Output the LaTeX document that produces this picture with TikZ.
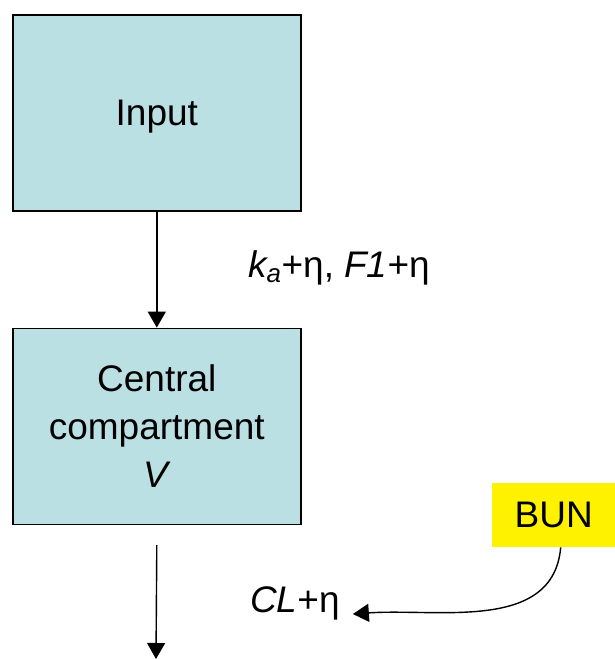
\documentclass[tikz,border=0pt]{standalone}
\usepackage{fontspec}
\setmainfont{Liberation Sans}
\definecolor{boxfill}{RGB}{187,224,227}
\usetikzlibrary{positioning, arrows.meta}

\begin{document}
\begin{tikzpicture}[x=1pt, y=-1pt,
                    every node/.style = {text=black, font=\fontsize{37}{48}\selectfont},
                    compbox/.style = {draw, line width=1.6pt, fill=boxfill, minimum width=288pt, minimum height=196pt, text depth=0pt, align=center},
                    flow/.style = {draw, line width=1.4pt, -{Triangle[width=18pt,length=16pt]}}]
                \useasboundingbox (0,0) rectangle (615,659);
                \node (input) [compbox, anchor=north west] at (12,14) {Input};
                \node (central) [compbox, below = 116pt of input] {Central\\compartment\\\textit{V}};
                \node (bun) [fill=yellow, minimum width=123pt, minimum height=64pt, inner sep=0pt, anchor=north west] at (492,483) {BUN};
                \node (abs) [anchor=base west, inner sep=0pt] at (248,277) {\textit{k\textsubscript{a}}+η, \textit{F1}+η};
                \node (cl) [anchor=base west, inner sep=0pt] at (250,612) {\textit{CL}+η};
                \coordinate (elim) at (156,659);
                \draw[flow] (input) -- (central);
                \draw[flow] ([yshift=-20pt]central.south) -- (elim);
                \draw[flow] ([xshift=7pt]bun.south) to[out=-95, in=4] ([xshift=13pt, yshift=-2pt]cl.base east);
            \end{tikzpicture}
\end{document}
